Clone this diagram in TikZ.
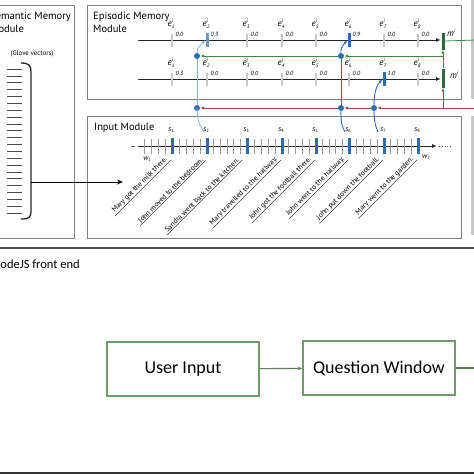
\documentclass[tikz,border=0pt]{standalone}
\usepackage{fontspec}
\setmainfont{PT Sans}
\newfontfamily\calibrifont{Carlito}
\usetikzlibrary{arrows.meta}
\definecolor{boxgray}{HTML}{808080}
\definecolor{tickgray}{HTML}{C8C8C8}
\definecolor{wgray}{HTML}{9A9A9A}
\definecolor{dblue}{HTML}{2A6DB5}
\definecolor{sblue}{HTML}{6C98C4}
\definecolor{lblue}{HTML}{8DB3D6}
\definecolor{mred}{HTML}{B34050}
\definecolor{mgreen}{HTML}{3C8C46}
\definecolor{dgreen}{HTML}{2A6B38}
\definecolor{fgreen}{HTML}{6E9E68}
\newcommand\elab[1]{\textit{e}\rlap{\raisebox{0.85ex}{\fontsize{5}{5}\selectfont\textit{i}}}\raisebox{-0.45ex}{\fontsize{5}{5}\selectfont\textit{#1}}}
\newcommand\slab[1]{\textit{s}\raisebox{-0.45ex}{\fontsize{4.5}{5}\selectfont #1}}
\begin{document}
\begin{tikzpicture}[x=1pt,y=-1pt,
  modbox/.style={draw=boxgray,line width=0.9pt},
  title/.style={font=\fontsize{10.5}{12.5}\selectfont,align=left,inner sep=0pt},
  etick/.style={fill=tickgray,minimum width=2.6pt,minimum height=13pt,inner sep=0pt},
  btick/.style={fill=dblue,minimum width=3pt,minimum height=14pt,inner sep=0pt},
  stick/.style={fill=sblue,minimum width=3pt,minimum height=14pt,inner sep=0pt},
  elabel/.style={font=\fontsize{9}{10}\selectfont,inner sep=0pt},
  vlabel/.style={font=\fontsize{6}{7}\selectfont\itshape,inner sep=0pt,anchor=west},
  mbar/.style={fill=dgreen,minimum width=3pt,inner sep=0pt},
  dot/.style={circle,fill=dblue,minimum size=6pt,inner sep=0pt},
  itick/.style={fill=dblue,minimum width=3pt,minimum height=16pt,inner sep=0pt},
  sent/.style={font=\fontsize{7.3}{8}\selectfont,rotate=45,inner xsep=2pt,inner ysep=0.8pt,anchor=south east},
  uline/.style={draw=black!75,line width=0.5pt},
  redarr/.style={draw=mred,line width=0.8pt,-{Latex[length=4pt,width=3.2pt]}},
  greenarr/.style={draw=mgreen,line width=0.8pt,-{Latex[length=4pt,width=3.2pt]}},
  fbox/.style={draw=fgreen,line width=1.2pt,minimum width=152pt,minimum height=54pt,font=\calibrifont\fontsize{18}{20}\selectfont},
]
\useasboundingbox (0,0) rectangle (474,474);
\clip (0,0) rectangle (474,474);

% ---------- module boxes ----------
\draw[modbox] (-20,5) rectangle (74,238);
\draw[modbox] (87,5) rectangle (461,99);
\draw[modbox] (87,116) rectangle (461,238);
\draw[draw=tickgray,line width=3pt] (472,-5) -- (472,99);
\draw[draw=tickgray,line width=3pt] (472,116) -- (472,235);

% ---------- semantic memory ----------
\node[title,anchor=north west] (semt) at (-10,12) {Semantic Memory\\Module};
\node[font=\fontsize{6.8}{7}\selectfont] (glove) at (32,54) {(Glove vectors)};
\foreach \k in {0,...,21} {
  \draw[black!70,line width=0.7pt] (7,{69+\k*6.857}) -- (22,{69+\k*6.857});
}
\draw[black!85,line width=1.3pt] (21,63) .. controls (30,63) and (31,66) .. (31,73) -- (31,210) .. controls (31,217) and (30,219) .. (21,219);
\coordinate (brk) at (31,182);
\coordinate (inp) at (123,182);
\draw[black,line width=0.8pt,-{Stealth[length=6pt,width=5pt]}] (brk) -- (inp);

% ---------- episodic memory ----------
\node[title,anchor=north west] (epit) at (93,12) {Episodic Memory\\Module};
\draw[black!85,line width=1pt,-{Latex[length=5pt,width=4pt]}] (138,40) -- (441,40);
\draw[black!85,line width=1pt,-{Latex[length=5pt,width=4pt]}] (138,79) -- (441,79);
% row 1
\foreach \x/\v/\n in {172/0.0/1,207/0.3/2,247/0.0/3,282/0.0/4,316/0.0/5,349/0.9/6,384/0.0/7,418/0.0/8} {
  \node[elabel] (ra\n) at (\x-1,24) {\elab{\n}};
  \node[vlabel] (va\n) at (\x+3.5,34) {\v};
}
\foreach \x/\n in {172/1,247/3,282/4,316/5,384/7,418/8} {\node[etick] (ta\n) at (\x,40) {};}
\node[stick] (ta2) at (207,40) {};
\node[btick] (ta6) at (349,40) {};
% row 2
\foreach \x/\v/\n in {172/0.3/1,207/0.0/2,247/0.0/3,282/0.0/4,316/0.0/5,349/0.0/6,384/1.0/7,418/0.0/8} {
  \node[elabel] (rb\n) at (\x-1,63) {\elab{\n}};
  \node[vlabel] (vb\n) at (\x+3.5,73) {\v};
}
\foreach \x/\n in {172/1,207/2,247/3,282/4,316/5,349/6,418/8} {\node[etick] (tb\n) at (\x,79) {};}
\node[btick] (tb7) at (384,79) {};
% memory bars
\node[mbar,minimum height=17pt] (m1) at (443,41) {};
\node[mbar,minimum height=19pt] (m2) at (443,78) {};
\node[font=\fontsize{9}{10}\selectfont\itshape,inner sep=0pt,anchor=west] (m1l) at (447,33) {m\raisebox{0.8ex}{\fontsize{5}{5}\selectfont i}};
\node[font=\fontsize{9}{10}\selectfont\itshape,inner sep=0pt,anchor=west] (m2l) at (450,75) {m\raisebox{0.8ex}{\fontsize{5}{5}\selectfont i}};

% dots
\node[dot] (g2) at (197,56) {};
\node[dot] (g6) at (341,56) {};
\node[dot] (r2) at (197,108) {};
\node[dot] (r6) at (341,108) {};
\node[dot] (r7) at (374,108) {};

% green connectors
\coordinate (gj) at (443,56);
\coordinate (gout) at (476,40);
\draw[mgreen,line width=0.8pt] (m1.east) -- (gout);
\draw[mgreen,line width=0.8pt,-{Latex[open,length=4pt,width=3.5pt]}] (m2.north) -- (m1.south);
\draw[greenarr] (gj) -- (g6);
\draw[greenarr] (g6) -- (g2);
% red connectors
\coordinate (rin) at (476,108);
\coordinate (rj) at (443,108);
\draw[redarr] (rin) -- (r7);
\draw[redarr] (r7) -- (r6);
\draw[redarr] (r6) -- (r2);
\draw[redarr] (rj) -- (m2.south);

% ---------- input module ----------
\node[title,anchor=west] (inpt) at (94,128) {Input Module};
\draw[black!60,line width=0.6pt] (131,146) -- (135,146);
\draw[black!85,line width=1pt,-{Latex[length=5pt,width=4pt]}] (138,146) -- (437,146);
\draw[black!70,line width=0.8pt,dotted] (439,146) -- (451,146);
\foreach \a/\b/\n in {138/172/4,172/207/4,207/247/5,247/282/4,282/316/4,316/349/4,349/384/4,384/418/4} {
  \foreach \k in {1,...,\n} {
    \draw[wgray,line width=1pt] ({\a+\k*(\b-\a)/(\n+1)},138.5) -- ++(0,15);
  }
}
\foreach \x/\n in {172/1,207/2,247/3,282/4,316/5,349/6,384/7,418/8} {
  \node[itick] (s\n) at (\x,146) {};
  \node[font=\fontsize{7.5}{8}\selectfont,inner sep=0pt] (sl\n) at (\x-1,130) {\slab{\n}};
}
\node[font=\fontsize{7.5}{8}\selectfont\itshape,inner sep=0pt] (w1) at (147,159) {w\raisebox{-0.45ex}{\fontsize{4.5}{5}\selectfont 1}};
\node[font=\fontsize{7.5}{8}\selectfont\itshape,inner sep=0pt] (wt) at (426,157) {w\raisebox{-0.45ex}{\fontsize{4.5}{5}\selectfont T}};

% sentences
\foreach \x/\n/\t in {171/1/Mary got the milk there.,206/2/John moved to the bedroom.,242/3/Sandra went back to the kitchen.,281/4/Mary travelled to the hallway.,315/5/John got the football there.,348/6/John went to the hallway.,383/7/John put down the football.,417/8/Mary went to the garden.} {
  \node[sent] (t\n) at (\x,160) {\t};
  \draw[uline] (t\n.south west) -- (t\n.south east);
}

% blue connectors
\coordinate (s2top) at (204,132);
\coordinate (s6top) at (345,132);
\coordinate (s7top) at (378,132);
\draw[lblue,line width=0.8pt] (s2top) .. controls (198,123) and (197,116) .. (r2.center);
\draw[lblue,line width=0.8pt] (r2) -- (g2);
\draw[lblue,line width=0.8pt,-{Latex[length=4pt,width=3pt]}] (g2.north) .. controls (197,49) .. (ta2.west);
\draw[dblue,line width=0.9pt] (s6top) .. controls (340,123) and (341,116) .. (r6.center);
\draw[dblue,line width=0.9pt] (r6) -- (g6);
\draw[dblue,line width=0.9pt,-{Latex[length=4pt,width=3pt]}] (g6.north) .. controls (341,48) .. (ta6.west);
\draw[dblue,line width=0.9pt] (s7top) .. controls (374,123) and (374,116) .. (r7.center);
\draw[dblue,line width=0.9pt,-{Latex[length=4pt,width=3pt]}] (r7.north) .. controls (374,92) and (377,85) .. (tb7.west);

% ---------- separator and front end ----------
\draw[black!70,line width=1.4pt] (0,248) -- (474,248);
\node[font=\calibrifont\fontsize{12.5}{14}\selectfont,anchor=base east,inner sep=0pt] (fe) at (80,268) {NodeJS front end};
\node[fbox] (ui) at (183,369) {User Input};
\node[fbox] (qw) at (379,368) {Question Window};
\coordinate (qout) at (476,368);
\draw[fgreen!80!black,line width=1.1pt,-{Latex[length=4pt,width=3.5pt]}] (ui) -- (qw);
\draw[fgreen!80!black,line width=1.1pt] (qw) -- (qout);
\fill[black!80] (0,471.5) rectangle (474,476);
\end{tikzpicture}
\end{document}
